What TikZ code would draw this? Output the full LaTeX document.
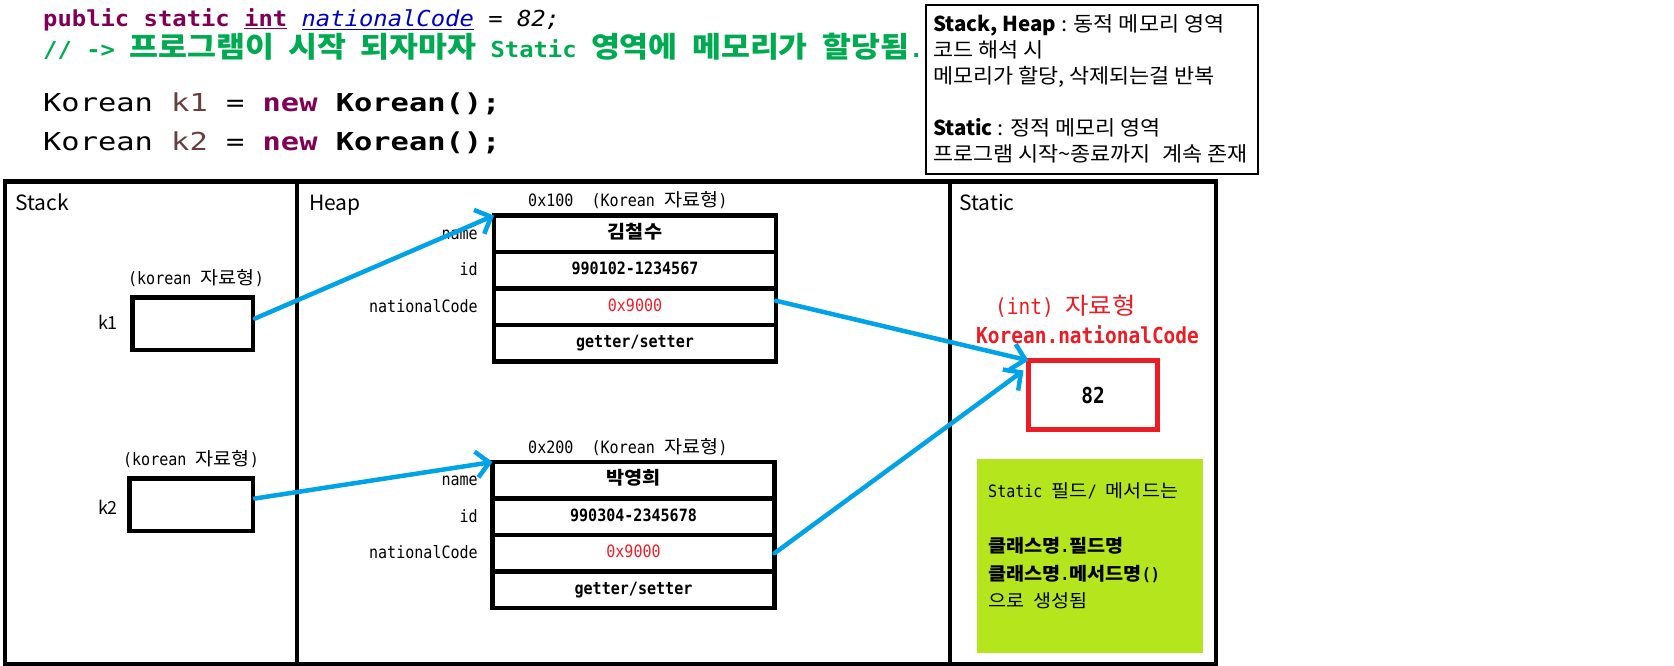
\documentclass[tikz,border=0pt]{standalone}
\usepackage{fontspec}
\usetikzlibrary{arrows.meta}
\setmainfont{Noto Sans CJK KR}
\newfontfamily\sansf{Noto Sans CJK KR}
\newfontfamily\notef[FakeStretch=1.065]{Noto Sans CJK KR}
\newfontfamily\monof[FakeStretch=0.885,ItalicFont={DejaVu Sans Mono Oblique},BoldFont={DejaVu Sans Mono Bold},BoldItalicFont={DejaVu Sans Mono Bold Oblique}]{DejaVu Sans Mono}
\newfontfamily\monokr[Scale=1.06,FakeStretch=1.09]{Noto Sans CJK KR}
\newfontfamily\codef[FakeStretch=1.084,ItalicFont={DejaVu Sans Mono Oblique},BoldFont={DejaVu Sans Mono Bold},BoldItalicFont={DejaVu Sans Mono Bold Oblique}]{DejaVu Sans Mono}
\newfontfamily\codekr[Scale=1.305,FakeStretch=1.095]{Noto Sans CJK KR}
\newfontfamily\codebig[FakeStretch=1.23,BoldFont={DejaVu Sans Mono Bold}]{DejaVu Sans Mono}
\newcommand\K[1]{{\monokr #1}}
\newcommand\KC[1]{{\codekr #1}}
\definecolor{kw}{RGB}{127,0,85}
\definecolor{fld}{RGB}{0,0,192}
\definecolor{loc}{RGB}{106,62,62}
\definecolor{cmt}{RGB}{0,170,80}
\definecolor{pblue}{RGB}{0,162,232}
\definecolor{pred}{RGB}{237,28,36}
\definecolor{lime}{RGB}{181,230,29}
\tikzset{
  region/.style={draw=black, line width=4.5pt, inner sep=0pt, minimum height=482.5pt},
  refbox/.style={draw=black, line width=4.5pt, inner sep=0pt, minimum width=#1, minimum height=52.5pt},
  row/.style={draw=black, line width=4.5pt, inner sep=0pt, outer sep=0pt, minimum width=282pt, minimum height=36.5pt,
     text height=12pt, text depth=3.5pt, font=\fontsize{17}{20}\selectfont\monof},
  lbl/.style={anchor=base east, inner sep=0pt, font=\fontsize{17}{20}\selectfont\monof},
  mtxt/.style={inner sep=0pt, font=\fontsize{17}{20}\selectfont\monof},
  note/.style={anchor=base west, inner sep=0pt, font=\fontsize{20.5}{24}\selectfont\notef},
  sect/.style={anchor=base west, inner sep=0pt, font=\fontsize{21}{25}\selectfont\sansf},
  parrow/.style={draw=pblue, line width=4.5pt, line cap=round, -{Straight Barb[length=13pt,width=26pt]}},
}
\begin{document}
\begin{tikzpicture}[x=1pt,y=-1pt]
\useasboundingbox (0,0) rectangle (1674,666);
\fill[white] (0,0) rectangle (1674,666);

% code lines
\node[anchor=base west, inner sep=0pt] (c1) at (43,27) {\fontsize{22}{26}\selectfont\codef {\color{kw}\bfseries public static \underline{int}} {\color{fld}\itshape\underline{nationalCode}} = {\itshape 82;}};
\node[anchor=base west, inner sep=0pt] (c2) at (43,58) {\fontsize{22}{26}\selectfont\codef\bfseries\color{cmt}// -> \KC{프로그램이} \KC{시작} \KC{되자마자} Static \KC{영역에} \KC{메모리가} \KC{할당됨}.};
\node[anchor=base west, inner sep=0pt] (c3) at (43,112) {\fontsize{24.7}{28}\selectfont\codebig Korean {\color{loc}k1} = {\color{kw}\bfseries new} {\bfseries Korean();}};
\node[anchor=base west, inner sep=0pt] (c4) at (43,150) {\fontsize{24.7}{28}\selectfont\codebig Korean {\color{loc}k2} = {\color{kw}\bfseries new} {\bfseries Korean();}};

% note box
\node[draw=black, line width=1.8pt, minimum width=332pt, minimum height=169pt, inner sep=0pt] (notebox) at (1092,89.5) {};
\node[note] (n1) at (933,32) {{\sansf\bfseries Stack, Heap} : 동적 메모리 영역};
\node[note] (n2) at (933,58) {코드 해석 시};
\node[note] (n3) at (933,84) {메모리가 할당, 삭제되는걸 반복};
\node[note] (n5) at (933,136) {{\sansf\bfseries Static} : 정적 메모리 영역};
\node[note] (n6) at (933,162) {프로그램 시작\textasciitilde 종료까지\hspace{11pt}계속 존재};

% regions
\node[region, minimum width=292pt] (stack) at (151,422.75) {};
\node[region, minimum width=653pt] (heap) at (623.5,422.75) {};
\node[region, minimum width=266pt] (static) at (1083,422.75) {};
\node[sect] (stackl) at (15,210) {Stack};
\node[sect] (heapl) at (309,210) {Heap};
\node[sect] (staticl) at (959,210) {Static};

% stack
\node[refbox=120.5pt] (k1) at (192.5,323.5) {};
\node[refbox=123.5pt] (k2) at (191,504.5) {};
\node[mtxt, anchor=base] (k1t) at (196,284) {(korean \K{자료형})};
\node[mtxt, anchor=base] (k2t) at (191,465) {(korean \K{자료형})};
\node[anchor=base, inner sep=0pt, font=\fontsize{18}{22}\selectfont\sansf] (k1l) at (108,329) {k1};
\node[anchor=base, inner sep=0pt, font=\fontsize{18}{22}\selectfont\sansf] (k2l) at (108,514) {k2};

% heap object 1
\node[mtxt, anchor=base west] (h1) at (528,207) {0x100\ \ (Korean \K{자료형})};
\node[row] (o1a) at (635,233.75) {\bfseries\K{김철수}};
\node[row] (o1b) at (635,270.25) {\bfseries 990102-1234567};
\node[row, text=pred] (o1c) at (635,306.75) {0x9000};
\node[row] (o1d) at (635,343.25) {\bfseries getter/setter};
\node[lbl] (o1an) at (478,239) {name};
\node[lbl] (o1bn) at (478,275.5) {id};
\node[lbl] (o1cn) at (478,312) {nationalCode};

% heap object 2
\node[mtxt, anchor=base west] (h2) at (528,453) {0x200\ \ (Korean \K{자료형})};
\node[row] (o2a) at (633.5,480.25) {\bfseries\K{박영희}};
\node[row] (o2b) at (633.5,516.75) {\bfseries 990304-2345678};
\node[row, text=pred] (o2c) at (633.5,553.25) {0x9000};
\node[row] (o2d) at (633.5,589.75) {\bfseries getter/setter};
\node[lbl] (o2an) at (478,485.5) {name};
\node[lbl] (o2bn) at (478,522) {id};
\node[lbl] (o2cn) at (478,558.5) {nationalCode};

% static
\node[anchor=base west, inner sep=0pt, text=pred, font=\fontsize{22}{26}\selectfont\monof] (st1) at (995,314) {(int) {\monokr 자료형}};
\node[anchor=base west, inner sep=0pt, text=pred, font=\fontsize{22}{26}\selectfont\monof\bfseries] (st2) at (976,343) {Korean.nationalCode};
\node[draw=pred, line width=5pt, inner sep=0pt, outer sep=0pt, minimum width=129pt, minimum height=69pt, font=\fontsize{22}{26}\selectfont\monof\bfseries] (sv) at (1093,395) {82};
\node[fill=lime, inner sep=0pt, minimum width=226pt, minimum height=194pt] (gb) at (1090,556) {};
\node[mtxt, anchor=base west] (g1) at (988,497) {Static \K{필드}/ \K{메서드는}};
\node[mtxt, anchor=base west] (g2) at (988,552) {\bfseries\K{클래스명}.\K{필드명}};
\node[mtxt, anchor=base west] (g3) at (988,580) {\bfseries\K{클래스명}.\K{메서드명}()};
\node[mtxt, anchor=base west] (g4) at (988,607) {\K{으로} \K{생성됨}};

% arrows
\draw[parrow] ([yshift=5pt]k1.east) -- (o1a.north west);
\draw[parrow] ([yshift=6pt]k2.east) -- (o2a.north west);
\draw[parrow] ([yshift=6pt]o1c.east) -- (sv.north west);
\draw[parrow] (o2c.east) -- ([xshift=-5pt,yshift=-10pt]sv.north west);
\end{tikzpicture}
\end{document}
